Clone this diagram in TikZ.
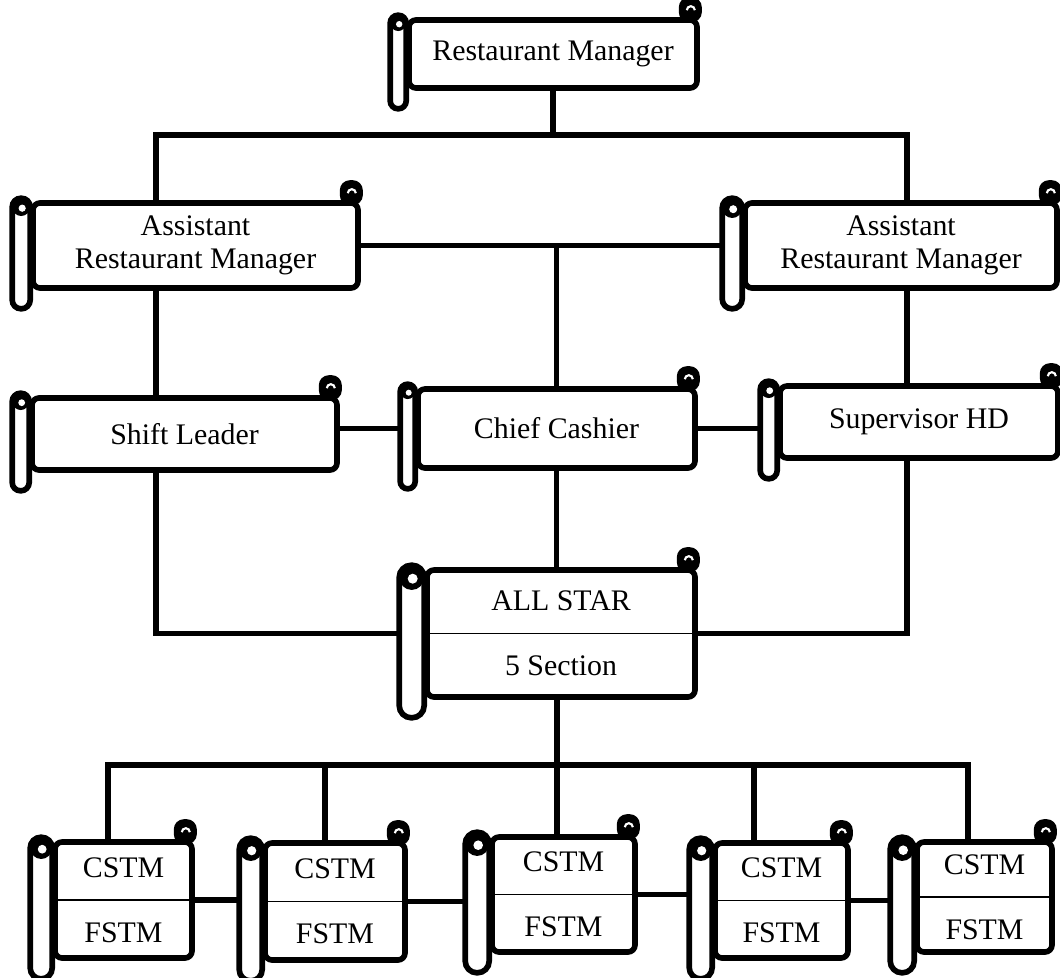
\documentclass[tikz,border=0pt]{standalone}
\usepackage{fontspec}
\setmainfont{Liberation Serif}
\usetikzlibrary{calc}
\pgfdeclarelayer{background}
\pgfsetlayers{background,main}
\tikzset{
  scrollline/.style={draw=black, line width=3.2pt},
  scrollbox/.style={scrollline, fill=white, rectangle, rounded corners=4pt,
    inner sep=0pt, align=center, font=\fontsize{17pt}{19pt}\selectfont},
  boxsize/.style 2 args={minimum width=#1*0.02cm, minimum height=#2*0.02cm},
  conn/.style={draw=black, line width=2.9pt},
  divider/.style={draw=black, line width=0.8pt},
}
% left roll and top curl of a scroll node: #1 node, #2 roll width
\newcommand{\scrollparts}[2]{%
  \draw[scrollline, fill=white, rounded corners=#2*0.0098cm]
    ($(#1.north west)+(-#2,-2)$) rectangle ($(#1.south west)+(0,18)$);
  \fill ($(#1.north west)+(-#2/2,-2+#2/2)$) circle[radius=#2*0.0098cm];
  \fill[white] ($(#1.north west)+(-#2/2+1,-1+#2/2)$) circle[radius=#2*0.004cm];
  \fill[rounded corners=0.2cm] ($(#1.north east)+(-21,5)$)
    rectangle ($(#1.north east)+(2,-20)$);
  \draw[white, line width=1.2pt] ($(#1.north east)+(-13,-7)$)
    arc[start angle=180, end angle=0, radius=0.08cm];
}

\begin{document}
\begin{tikzpicture}[x=0.02cm, y=-0.02cm]
  \useasboundingbox (0,0) rectangle (1060,977);
  % scrolls
  \node[scrollbox, boxsize={288}{68}] (rm) at (553,54) {Restaurant Manager};
  \node[scrollbox, boxsize={325}{85}] (arml) at (195.5,245.5) {Assistant\\Restaurant Manager};
  \node[scrollbox, boxsize={312}{85}] (armr) at (901,245.5) {Assistant\\Restaurant Manager};
  \node[scrollbox, boxsize={305}{72}] (sl) at (184.5,434) {Shift Leader};
  \node[scrollbox, boxsize={277}{79}] (cc) at (556.5,428.5) {Chief Cashier};
  \node[scrollbox, boxsize={278}{72}] (sv) at (919,422) {Supervisor HD};
  \node[scrollbox, boxsize={268}{127}] (as) at (561,633.5) {ALL STAR\\[18pt]5 Section};
  \node[scrollbox, boxsize={137}{116}] (c1) at (123.5,900) {CSTM\\[18pt]FSTM};
  \node[scrollbox, boxsize={140}{117}] (c2) at (335,901.5) {CSTM\\[18pt]FSTM};
  \node[scrollbox, boxsize={143}{115}] (c3) at (563.5,894.5) {CSTM\\[18pt]FSTM};
  \node[scrollbox, boxsize={133}{115}] (c4) at (781.5,900.5) {CSTM\\[18pt]FSTM};
  \node[scrollbox, boxsize={135}{110}] (c5) at (984.5,897) {CSTM\\[18pt]FSTM};
  % split lines
  \foreach \n in {as,c1,c2,c3,c4,c5}
    \draw[divider] (\n.west) -- (\n.east);
  \foreach \n/\w in {rm/16,arml/18,armr/20,sl/17,cc/15,sv/17,as/25,c1/22,c2/23,c3/24,c4/23,c5/24}
    \scrollparts{\n}{\w};
  % connectors
  \coordinate (jl) at (156,135);
  \coordinate (jr) at (907,135);
  \coordinate (b1) at (108,765);
  \coordinate (b2) at (325,765);
  \coordinate (b3) at (557,765);
  \coordinate (b4) at (754,765);
  \coordinate (b5) at (968,765);
  \begin{pgfonlayer}{background}
    \draw[conn] (rm.south) -- (rm.south |- jl);
    \draw[conn] (arml.north -| jl) -- (jl) -- (jr) -- (armr.north -| jr);
    \draw[conn] (arml.east) -- (arml.east -| armr.west);
    \draw[conn] (cc.north) -- (cc.north |- arml.east);
    \draw[conn] (arml.south -| jl) -- (sl.north -| jl);
    \draw[conn] (armr.south -| jr) -- (sv.north -| jr);
    \draw[conn] (sl.east |- cc.west) -- (cc.west);
    \draw[conn] (cc.east) -- (cc.east -| sv.west);
    \draw[conn] (sl.south -| jl) |- (as.west);
    \draw[conn] (sv.south -| jr) |- (as.east);
    \draw[conn] (cc.south) -- (cc.south |- as.north);
    \draw[conn] (as.south -| b3) -- (b3);
    \draw[conn] (c1.north -| b1) -- (b1) -- (b5) -- (c5.north -| b5);
    \foreach \n/\b in {c2/b2,c3/b3,c4/b4}
      \draw[conn] (\b) -- (\n.north -| \b);
    \foreach \a/\b in {c1/c2,c2/c3,c3/c4,c4/c5}
      \draw[conn] (\a.east) -- (\a.east -| \b.west);
  \end{pgfonlayer}
\end{tikzpicture}
\end{document}
